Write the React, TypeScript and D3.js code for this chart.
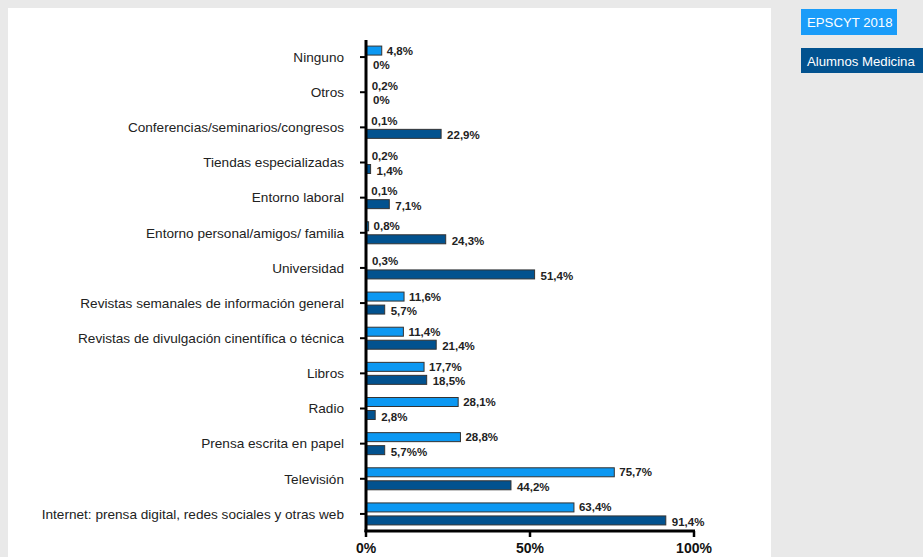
import * as d3 from "d3";

const categories = [
  "Ninguno",
  "Otros",
  "Conferencias/seminarios/congresos",
  "Tiendas especializadas",
  "Entorno laboral",
  "Entorno personal/amigos/ familia",
  "Universidad",
  "Revistas semanales de información general",
  "Revistas de divulgación cinentífica o técnica",
  "Libros",
  "Radio",
  "Prensa escrita en papel",
  "Televisión",
  "Internet: prensa digital, redes sociales y otras web",
];
const epscyt = [4.8, 0.2, 0.1, 0.2, 0.1, 0.8, 0.3, 11.6, 11.4, 17.7, 28.1, 28.8, 75.7, 63.4];
const medicina = [0, 0, 22.9, 1.4, 7.1, 24.3, 51.4, 5.7, 21.4, 18.5, 2.8, 5.7, 44.2, 91.4];
const epscytLabels = ["4,8%", "0,2%", "0,1%", "0,2%", "0,1%", "0,8%", "0,3%", "11,6%", "11,4%", "17,7%", "28,1%", "28,8%", "75,7%", "63,4%"];
const medicinaLabels = ["0%", "0%", "22,9%", "1,4%", "7,1%", "24,3%", "51,4%", "5,7%", "21,4%", "18,5%", "2,8%", "5,7%%", "44,2%", "91,4%"];
const xTicks = [0, 50, 100];
const legendNames = ["EPSCYT 2018", "Alumnos Medicina"];

const LIGHT = "#0c98f2";
const DARK = "#02528f";
const W = 923;
const H = 557;

export default function App() {
  const x = d3.scaleLinear().domain([0, 100]).range([366, 694]);
  const y = d3.scaleBand().domain(categories).range([39.5, 531.5]);
  const half = y.bandwidth() / 2;
  const font = "Arial, 'Liberation Sans', sans-serif";

  return (
    <svg
      width={W}
      height={H}
      style={{ position: "absolute", left: 0, top: 0, display: "block" }}
      fontFamily={font}
    >
      <rect width={W} height={H} fill="#e9e9e9" />
      <rect x={8} y={8} width={763} height={H - 8} fill="#fff" />

      {categories.map((c, i) => {
        const cy = (y(c) ?? 0) + half;
        return (
          <g key={c}>
            <text x={344} y={cy} dy="0.35em" textAnchor="end" fontSize={13.6} fill="#222">
              {c}
            </text>
            <line x1={360} x2={366} y1={cy} y2={cy} stroke="#000" strokeWidth={2} />
            <rect
              x={x(0)}
              y={cy - 11}
              width={x(epscyt[i]) - x(0)}
              height={9}
              fill={LIGHT}
              stroke="#333"
              strokeWidth={epscyt[i] > 0.5 ? 1 : 0}
            />
            <rect
              x={x(0)}
              y={cy + 2}
              width={x(medicina[i]) - x(0)}
              height={9}
              fill={DARK}
              stroke="#333"
              strokeWidth={medicina[i] > 0.5 ? 1 : 0}
            />
            <text
              x={x(epscyt[i]) + 5}
              y={cy - 6.5}
              dy="0.35em"
              fontSize={11.5}
              fontWeight="bold"
              fill="#222"
            >
              {epscytLabels[i]}
            </text>
            <text
              x={x(medicina[i]) + (medicina[i] > 0 ? 6 : 7)}
              y={cy + 8}
              dy="0.35em"
              fontSize={11.5}
              fontWeight="bold"
              fill="#222"
            >
              {medicinaLabels[i]}
            </text>
          </g>
        );
      })}

      <line x1={366} x2={366} y1={40} y2={532} stroke="#000" strokeWidth={3} />
      <line x1={364.5} x2={x(100) + 1} y1={531} y2={531} stroke="#000" strokeWidth={3} />
      {xTicks.map((t) => (
        <g key={t}>
          <line x1={x(t)} x2={x(t)} y1={531} y2={537} stroke="#000" strokeWidth={2.5} />
          <text x={x(t)} y={553} textAnchor="middle" fontSize={14} fontWeight="bold" fill="#111">
            {t}%
          </text>
        </g>
      ))}

      {legendNames.map((n, i) => (
        <g key={n}>
          <rect
            x={801}
            y={i === 0 ? 9 : 48}
            width={i === 0 ? 96 : 130}
            height={i === 0 ? 26 : 25}
            fill={i === 0 ? "#1a9cf9" : DARK}
          />
          <text
            x={807}
            y={(i === 0 ? 9 : 48) + 13}
            dy="0.35em"
            fontSize={13.2}
            fill="#fff"
          >
            {n}
          </text>
        </g>
      ))}
    </svg>
  );
}
